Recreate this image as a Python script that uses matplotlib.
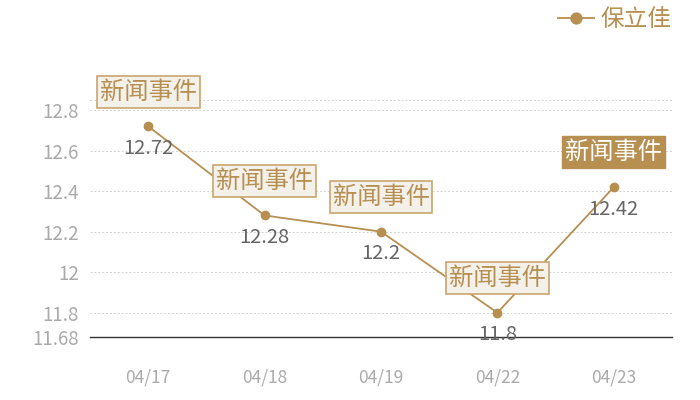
import matplotlib
matplotlib.use('Agg')
import matplotlib.pyplot as plt

plt.rcParams['font.family'] = ['Noto Sans CJK SC', 'DejaVu Sans']

dates = ['04/17', '04/18', '04/19', '04/22', '04/23']
prices = [12.72, 12.28, 12.2, 11.8, 12.42]
events = ['新闻事件', '新闻事件', '新闻事件', '新闻事件', '新闻事件']
highlight = [False, False, False, False, True]
yticks = [11.68, 11.8, 12, 12.2, 12.4, 12.6, 12.8]
yticklabels = ['11.68', '11.8', '12', '12.2', '12.4', '12.6', '12.8']
series_name = '保立佳'

gold = '#b68f51'

fig = plt.figure(figsize=(7, 4), dpi=100)
ax = fig.add_axes([0.1286, 0.1575, 0.8314, 0.5925])

x = list(range(len(dates)))
ax.plot(x, prices, color=gold, linewidth=1.3, marker='o', markersize=6, label=series_name, zorder=3)

ax.set_xlim(-0.5, len(dates) - 0.5)
ax.set_ylim(11.68, 12.85)
ax.set_yticks(yticks)
ax.set_yticklabels(yticklabels)
ax.set_xticks(x)
ax.set_xticklabels(dates)

# grid
for yy in yticks[1:] + [12.85]:
    ax.axhline(yy, color='#d2d2d2', linewidth=0.7, linestyle=(0, (2, 2)), zorder=0)

for s in ['top', 'right', 'left']:
    ax.spines[s].set_visible(False)
ax.spines['bottom'].set_color('#333333')
ax.spines['bottom'].set_linewidth(1)
ax.tick_params(axis='both', length=0, labelcolor='#aaaaaa')
ax.tick_params(axis='x', pad=23, labelsize=12.5)
ax.tick_params(axis='y', pad=8, labelsize=13.5)

# value labels and event boxes
for i, v in enumerate(prices):
    ax.annotate(str(v), (i, v), xytext=(0, -16), textcoords='offset points',
                ha='center', va='center', fontsize=14.5, color='#666666', zorder=4)
    if highlight[i]:
        box = dict(boxstyle='square,pad=0.12', fc=gold, ec=gold, lw=1)
        tc = 'white'
    else:
        box = dict(boxstyle='square,pad=0.12', fc='#f4f0ea', ec='#c9a66e', lw=1.2)
        tc = gold
    ax.annotate(events[i], (i, v), xytext=(0, 25), textcoords='offset points',
                ha='center', va='center', fontsize=17.5, color=tc, bbox=box, zorder=5)

leg = fig.legend(loc='upper right', bbox_to_anchor=(0.98, 1.015), frameon=False,
                 fontsize=17, handlelength=1.5, handletextpad=0.3, borderaxespad=0.2,
                 markerscale=1.3)
for t in leg.get_texts():
    t.set_color(gold)

fig.savefig('out.png', dpi=100)
